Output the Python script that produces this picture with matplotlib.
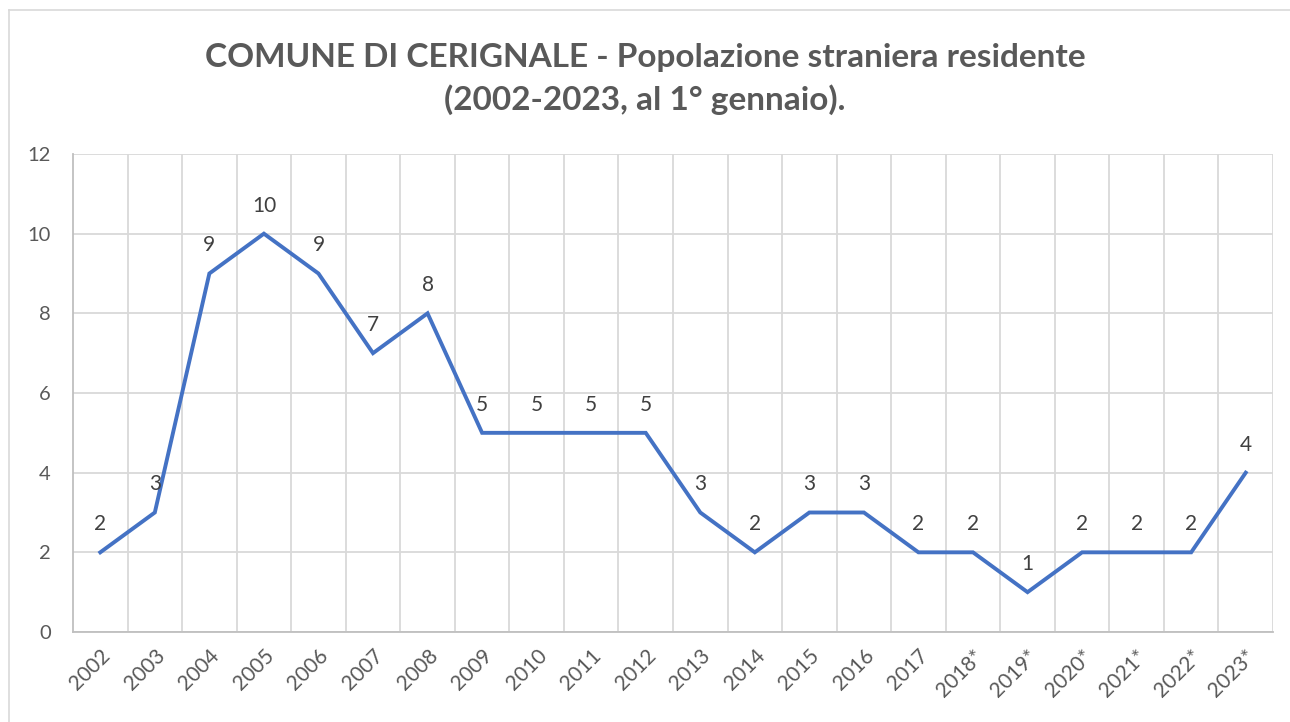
import matplotlib
matplotlib.use("Agg")
import matplotlib.pyplot as plt
from matplotlib.lines import Line2D

# dati
anni = ["2002", "2003", "2004", "2005", "2006", "2007", "2008", "2009",
        "2010", "2011", "2012", "2013", "2014", "2015", "2016", "2017",
        "2018*", "2019*", "2020*", "2021*", "2022*", "2023*"]
stranieri = [2, 3, 9, 10, 9, 7, 8, 5, 5, 5, 5, 3, 2, 3, 3, 2, 2, 1, 2, 2, 2, 4]
y_ticks = [0, 2, 4, 6, 8, 10, 12]

GRIGIO = "#595959"
BLU = "#4472C4"
FONT = "Lato"

plt.rcParams["font.family"] = [FONT, "DejaVu Sans"]

fig = plt.figure(figsize=(12.9, 7.22), dpi=100)
ax = fig.add_axes([73 / 1290, 1 - 632 / 722, 1200 / 1290, 478 / 722])

x = list(range(len(anni)))

ax.plot(x, stranieri, color=BLU, linewidth=2.8, solid_joinstyle="miter")

for xi, v in zip(x, stranieri):
    ax.annotate(
        str(v),
        (xi, v),
        xytext=(0, 13),
        textcoords="offset points",
        ha="center",
        va="bottom",
        fontsize=15,
        color="#404040"
    )

ax.set_xlim(-0.5, len(anni) - 0.5)
ax.set_ylim(0, 12)
ax.set_yticks(y_ticks)
ax.set_xticks(x)
ax.set_xticklabels(anni, rotation=45, ha="right", rotation_mode="anchor")

# griglia verticale sui confini delle categorie
ax.set_xticks([i + 0.5 for i in x], minor=True)
ax.grid(True, axis="y", color="#D9D9D9", linewidth=1.3)
ax.grid(True, axis="x", which="minor", color="#D9D9D9", linewidth=1.3)
ax.set_axisbelow(True)

ax.tick_params(axis="both", which="both", length=0, colors=GRIGIO)
ax.tick_params(axis="x", pad=10, labelsize=15)
ax.tick_params(axis="y", pad=16, labelsize=14.5)

for s in ["top", "right"]:
    ax.spines[s].set_visible(False)
ax.spines["left"].set_color("#BFBFBF")
ax.spines["bottom"].set_color("#BFBFBF")
ax.spines["left"].set_linewidth(1.3)
ax.spines["bottom"].set_linewidth(1.3)

fig.text(
    0.5, 1 - 79 / 722,
    "COMUNE DI CERIGNALE - Popolazione straniera residente\n"
    "(2002-2023, al 1° gennaio).",
    ha="center",
    va="center",
    fontsize=24,
    fontweight="bold",
    color=GRIGIO,
    linespacing=1.5
)

# bordo del grafico
fig.add_artist(Line2D([9 / 1290, 9 / 1290], [0, 1 - 10 / 722],
                      transform=fig.transFigure, color="#D9D9D9", linewidth=1.2))
fig.add_artist(Line2D([9 / 1290, 1], [1 - 10 / 722, 1 - 10 / 722],
                      transform=fig.transFigure, color="#D9D9D9", linewidth=1.2))

fig.savefig("out.png", dpi=100)
